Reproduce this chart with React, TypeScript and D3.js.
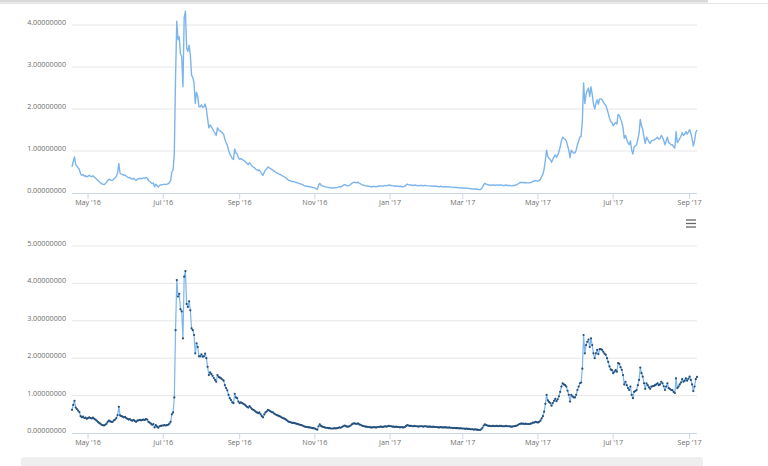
import React from "react";
import * as d3 from "d3";

const startDate = new Date(2016, 3, 18);
const endDate = new Date(2017, 8, 7);

const valuesAprJun16 = [
  0.62, 0.75, 0.86, 0.68, 0.64, 0.6, 0.56, 0.45, 0.42, 0.44, 0.4, 0.41, 0.38, 0.4,
  0.42, 0.4, 0.39, 0.41, 0.38, 0.36, 0.33, 0.3, 0.27, 0.25,
  0.22, 0.21, 0.2, 0.22, 0.25,
  0.3, 0.33, 0.31, 0.3, 0.3, 0.34, 0.36, 0.4, 0.48, 0.7, 0.47, 0.45, 0.44, 0.42, 0.43,
];
const valuesJunJul16 = [
  0.4, 0.38, 0.36, 0.37, 0.34, 0.33, 0.35, 0.32, 0.3, 0.33,
  0.34, 0.35, 0.34, 0.35, 0.36, 0.35, 0.37, 0.36, 0.3, 0.28,
  0.25, 0.22, 0.24, 0.15, 0.21, 0.17, 0.14, 0.18, 0.19, 0.2,
  0.2, 0.21, 0.2, 0.21, 0.22, 0.25, 0.3, 0.5, 0.55, 0.95,
];
const valuesJulSep16 = [
  2.75, 4.09, 3.65, 3.72, 3.31, 3.25, 2.53, 4.18, 4.33, 3.45,
  3.37, 3.52, 3.28, 2.8, 2.75, 2.62, 2.13, 2.4, 2.3, 2.05,
  2.05, 2.1, 2.04, 2.05, 2.12, 2.0, 1.77, 1.55, 1.62, 1.58,
  1.53, 1.47, 1.42, 1.37, 1.55, 1.5, 1.48, 1.46, 1.43, 1.4,
  1.28, 1.2, 1.14, 1.02, 0.93, 0.88, 0.82, 0.8, 1.05, 0.95,
  0.93, 0.84, 0.8, 0.82, 0.8, 0.78, 0.76, 0.73, 0.7, 0.68,
  0.72, 0.68, 0.64, 0.62, 0.6, 0.57, 0.55, 0.53, 0.55, 0.5,
];
const valuesSep16Apr17 = [
  0.45, 0.42, 0.5, 0.55, 0.58, 0.62, 0.6, 0.58, 0.56, 0.55,
  0.52, 0.5, 0.48, 0.47, 0.45, 0.44, 0.42, 0.4, 0.39, 0.37,
  0.35, 0.32, 0.3, 0.29, 0.28, 0.27, 0.27, 0.26, 0.25, 0.24,
  0.23, 0.22, 0.21, 0.2, 0.18, 0.17, 0.16, 0.16, 0.15, 0.15,
  0.14, 0.13, 0.13, 0.12, 0.1, 0.09, 0.18, 0.23, 0.19, 0.17,
  0.16, 0.15, 0.14, 0.14, 0.13, 0.13, 0.12, 0.12, 0.12, 0.13,
  0.12, 0.13, 0.14, 0.15, 0.14, 0.16, 0.18, 0.2, 0.19, 0.17,
  0.17, 0.18, 0.2, 0.23, 0.25, 0.26, 0.25, 0.24, 0.26, 0.23,
  0.22, 0.2, 0.19, 0.18, 0.17, 0.17, 0.16, 0.16, 0.15, 0.15,
  0.15, 0.16, 0.15, 0.15, 0.16, 0.16, 0.17, 0.17, 0.16, 0.17,
  0.18, 0.17, 0.18, 0.19, 0.18, 0.18, 0.17, 0.17, 0.16, 0.17,
  0.16, 0.16, 0.15, 0.16, 0.15, 0.15, 0.16, 0.19, 0.21, 0.2,
  0.19, 0.19, 0.18, 0.18, 0.19, 0.18, 0.18, 0.17, 0.18, 0.18,
  0.18, 0.17, 0.18, 0.18, 0.17, 0.17, 0.17, 0.17, 0.16, 0.17,
  0.16, 0.16, 0.16, 0.15, 0.15, 0.16, 0.15, 0.15, 0.15, 0.15,
  0.15, 0.14, 0.15, 0.14, 0.14, 0.13, 0.14, 0.13, 0.13, 0.13,
  0.12, 0.13, 0.12, 0.12, 0.12, 0.11, 0.12, 0.11, 0.11, 0.1,
  0.1, 0.1, 0.09, 0.1, 0.09, 0.09, 0.08, 0.08, 0.1, 0.14,
  0.2, 0.23, 0.21, 0.2, 0.19, 0.19, 0.18, 0.19, 0.19, 0.18,
  0.19, 0.19, 0.18, 0.19, 0.19, 0.18, 0.18, 0.18, 0.19, 0.18,
  0.18, 0.18, 0.17, 0.17, 0.18, 0.18, 0.19, 0.2, 0.22, 0.24,
  0.25, 0.25, 0.25, 0.24, 0.25, 0.24, 0.24, 0.24, 0.25, 0.26,
  0.28, 0.28, 0.3, 0.29, 0.28, 0.3, 0.33, 0.39, 0.45, 0.57,
];
const valuesMaySep17 = [
  0.78, 1.02, 0.87, 0.83, 0.8, 0.73, 0.8, 0.86, 0.91, 0.85,
  0.9, 0.98, 1.1, 1.24, 1.33, 1.3, 1.28, 1.24, 1.13, 1.02,
  0.84, 1.02, 0.98, 0.95, 0.95, 1.02, 1.15, 1.24, 1.33, 1.35,
  1.72, 2.62, 2.13, 2.35, 2.44, 2.5, 2.3, 2.53, 2.35, 2.13,
  2.0, 2.13, 2.22, 2.11, 2.24, 2.24, 2.22, 2.17, 2.12, 2.09,
  2.0, 1.9, 1.78, 1.7, 1.68, 1.6, 1.64, 1.68, 1.64, 1.87,
  1.85, 1.76, 1.69, 1.55, 1.3, 1.37, 1.28, 1.2, 1.15, 1.24,
  1.02, 0.93, 1.1, 1.12, 1.15, 1.28, 1.42, 1.75, 1.6, 1.51,
  1.33, 1.18, 1.33, 1.28, 1.22, 1.18, 1.24, 1.25, 1.26, 1.28,
  1.3, 1.33, 1.28, 1.3, 1.37, 1.33, 1.25, 1.15, 1.24, 1.33,
  1.2, 1.18, 1.15, 1.15, 1.1, 1.07, 1.46, 1.2, 1.24, 1.3,
  1.35, 1.44, 1.37, 1.4, 1.46, 1.4, 1.45, 1.51, 1.42, 1.3,
  1.12, 1.24, 1.44, 1.5,
];

const yTicks = [0, 1, 2, 3, 4, 5];

const values = [
  ...valuesAprJun16,
  ...valuesJunJul16,
  ...valuesJulSep16,
  ...valuesSep16Apr17,
  ...valuesMaySep17,
];
const data = values.map((v, i) => ({ date: d3.timeDay.offset(startDate, i), v }));

const FONT = "'Open Sans', sans-serif";
const LABEL = "#6e6e6e";
const GRID = "#e6e6e6";
const AXIS = "#ccd6eb";
const LINE = "#7cb5ec";
const MARK = "#24507c";

const x = d3.scaleTime().domain([startDate, endDate]).range([72, 697]);
const xTicks = d3.timeMonth.every(2)!.range(startDate, endDate);
const fmtX = d3.timeFormat("%b '%y");
const fmtY = (v: number) => v.toFixed(8);

function Panel({ y0, y5, markers, maxTick }: { y0: number; y5: number; markers: boolean; maxTick: number }) {
  const y = d3.scaleLinear().domain([0, 5]).range([y0, y5]);
  const line = d3
    .line<{ date: Date; v: number }>()
    .x((d) => x(d.date))
    .y((d) => y(d.v));
  return (
    <g>
      {yTicks
        .filter((t) => t <= maxTick)
        .map((t) => (
          <g key={t}>
            {t > 0 && <line x1={72} x2={697} y1={y(t)} y2={y(t)} stroke={GRID} strokeWidth={1} />}
            <text x={66} y={y(t)} textAnchor="end" fontFamily={FONT} fontSize={7.2} fill={LABEL}>
              {fmtY(t)}
            </text>
          </g>
        ))}
      <line x1={72} x2={697} y1={y0 + 0.5} y2={y0 + 0.5} stroke={AXIS} strokeWidth={1} />
      {xTicks.map((t, i) => (
        <g key={i}>
          <line x1={x(t)} x2={x(t)} y1={y0 + 0.5} y2={y0 + 6} stroke={AXIS} strokeWidth={1} />
          <text x={x(t)} y={y0 + 12} textAnchor="middle" fontFamily={FONT} fontSize={7.2} fill={LABEL}>
            {fmtX(t)}
          </text>
        </g>
      ))}
      <path d={line(data) ?? ""} fill="none" stroke={LINE} strokeWidth={markers ? 1.2 : 1.4} strokeLinejoin="round" />
      {markers &&
        data.map((d, i) => <circle key={i} cx={x(d.date)} cy={y(d.v)} r={1.1} fill={MARK} />)}
    </g>
  );
}

export default function App() {
  return (
    <svg
      width={768}
      height={466}
      style={{ position: "absolute", left: 0, top: 0, background: "#ffffff" }}
    >
      <rect x={0} y={0} width={768} height={466} fill="#ffffff" />
      <rect x={0} y={0} width={708} height={2.5} fill="#d8d8d8" />
      <line x1={0} x2={768} y1={3.5} y2={3.5} stroke="#e4e4e4" strokeWidth={1} />
      <Panel y0={193} y5={-17} markers={false} maxTick={4} />
      <Panel y0={433} y5={246} markers={true} maxTick={5} />
      <g stroke="#666666" strokeWidth={1.3}>
        <line x1={686} x2={696} y1={220} y2={220} />
        <line x1={686} x2={696} y1={223.5} y2={223.5} />
        <line x1={686} x2={696} y1={227} y2={227} />
      </g>
      <rect x={21} y={457} width={682} height={12} rx={3} fill="#eeeeee" />
    </svg>
  );
}
